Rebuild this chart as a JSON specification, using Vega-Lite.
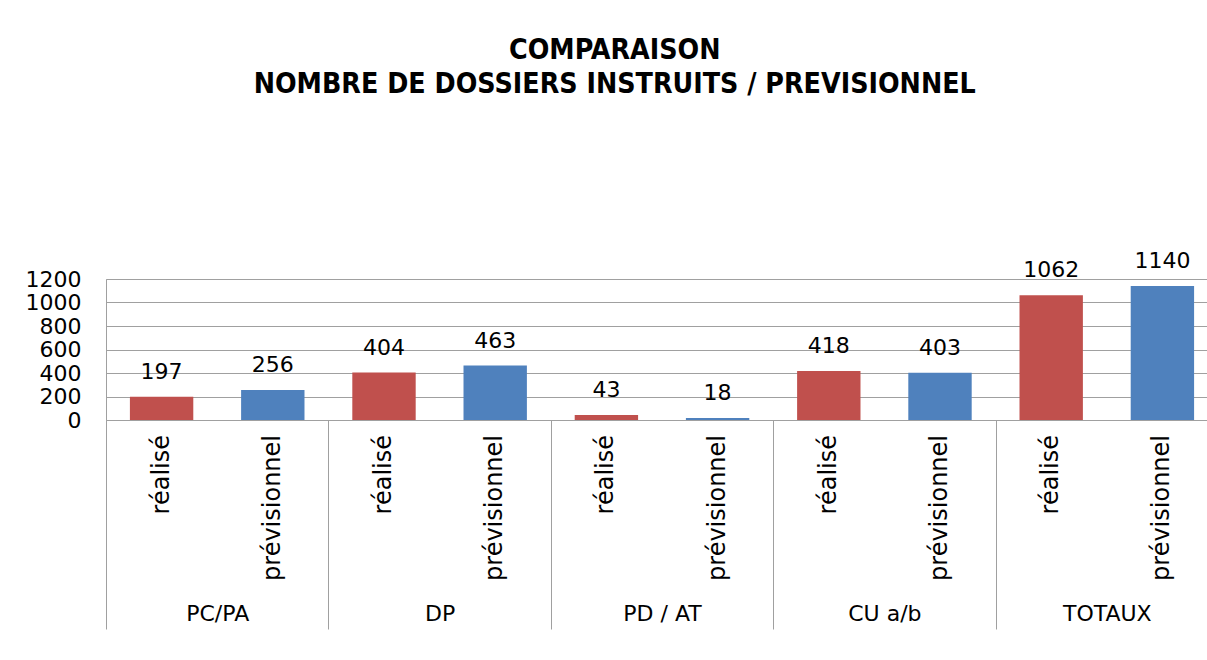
{
  "$schema": "https://vega.github.io/schema/vega-lite/v6.json",
  "width": 1112,
  "height": 141,
  "padding": {"left": 25, "top": 35, "right": 0, "bottom": 0},
  "background": "white",
  "title": {
    "text": ["COMPARAISON", "NOMBRE DE DOSSIERS INSTRUITS / PREVISIONNEL"],
    "font": "DejaVu Sans Condensed",
    "fontSize": 28.3,
    "fontWeight": "bold",
    "lineHeight": 34,
    "anchor": "middle",
    "frame": "bounds",
    "dx": -7,
    "offset": 151,
    "color": "black"
  },
  "config": {
    "view": {"stroke": "#a0a0a0"},
    "font": "DejaVu Sans"
  },
  "data": {
    "values": [
      {"categorie": "PC/PA", "serie": "réalisé", "valeur": 197},
      {"categorie": "PC/PA", "serie": "prévisionnel", "valeur": 256},
      {"categorie": "DP", "serie": "réalisé", "valeur": 404},
      {"categorie": "DP", "serie": "prévisionnel", "valeur": 463},
      {"categorie": "PD / AT", "serie": "réalisé", "valeur": 43},
      {"categorie": "PD / AT", "serie": "prévisionnel", "valeur": 18},
      {"categorie": "CU a/b", "serie": "réalisé", "valeur": 418},
      {"categorie": "CU a/b", "serie": "prévisionnel", "valeur": 403},
      {"categorie": "TOTAUX", "serie": "réalisé", "valeur": 1062},
      {"categorie": "TOTAUX", "serie": "prévisionnel", "valeur": 1140}
    ]
  },
  "encoding": {
    "x": {
      "field": "categorie",
      "type": "nominal",
      "sort": ["PC/PA", "DP", "PD / AT", "CU a/b", "TOTAUX"],
      "scale": {"paddingInner": 0, "paddingOuter": 0},
      "axis": {
        "title": null,
        "labelAngle": 0,
        "labelFont": "DejaVu Sans",
        "labelFontSize": 22,
        "labelColor": "black",
        "labelPadding": -26,
        "ticks": true,
        "tickSize": 209,
        "tickColor": "#a0a0a0",
        "tickBand": "extent",
        "domainColor": "#a0a0a0",
        "grid": false
      }
    },
    "xOffset": {
      "field": "serie",
      "type": "nominal",
      "sort": ["réalisé", "prévisionnel"],
      "scale": {"paddingInner": 0.43, "paddingOuter": 0.215}
    }
  },
  "layer": [
    {
      "mark": {"type": "bar"},
      "encoding": {
        "y": {
          "field": "valeur",
          "type": "quantitative",
          "scale": {"domain": [0, 1200], "nice": false},
          "axis": {
            "title": null,
            "values": [0, 200, 400, 600, 800, 1000, 1200],
            "tickCount": 7,
            "format": "d",
            "labelOverlap": false,
            "grid": true,
            "gridColor": "#a0a0a0",
            "domain": false,
            "ticks": false,
            "labelFont": "DejaVu Sans",
            "labelFontSize": 22,
            "labelColor": "black",
            "labelPadding": 25
          }
        },
        "color": {
          "field": "serie",
          "type": "nominal",
          "scale": {"domain": ["réalisé", "prévisionnel"], "range": ["#C0504D", "#4F81BD"]},
          "legend": null
        }
      }
    },
    {
      "mark": {"type": "text", "baseline": "alphabetic", "dy": -18, "fontSize": 22, "color": "black"},
      "encoding": {
        "y": {"field": "valeur", "type": "quantitative"},
        "text": {"field": "valeur", "type": "quantitative"}
      }
    },
    {
      "mark": {"type": "text", "angle": 270, "align": "right", "baseline": "middle", "dx": -15, "fontSize": 24, "color": "black"},
      "encoding": {
        "y": {"datum": 0},
        "text": {"field": "serie", "type": "nominal"}
      }
    }
  ]
}
